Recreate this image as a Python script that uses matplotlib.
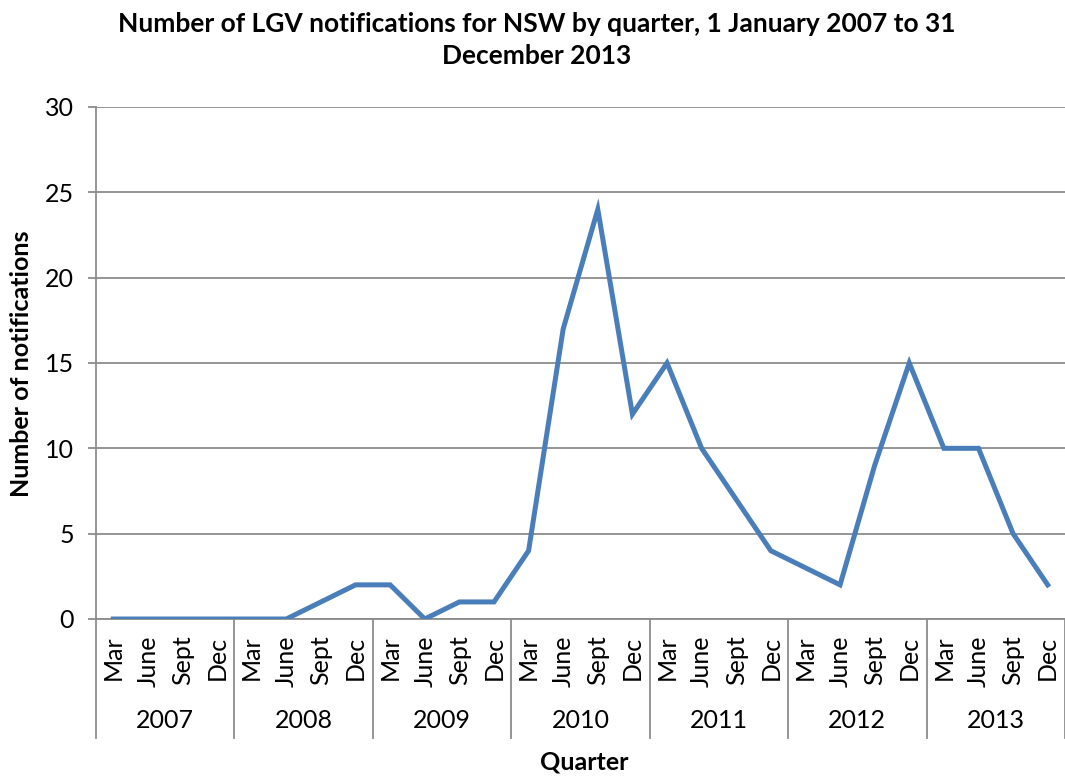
import numpy as np
import matplotlib
matplotlib.use("Agg")
import matplotlib.pyplot as plt
import matplotlib.transforms as mtransforms

# ---- data ----
years = ["2007", "2008", "2009", "2010", "2011", "2012", "2013"]
quarters = ["Mar", "June", "Sept", "Dec"]
notifications = [0, 0, 0, 0,
                 0, 0, 1, 2,
                 2, 0, 1, 1,
                 4, 17, 24, 12,
                 15, 10, 7, 4,
                 3, 2, 9, 15,
                 10, 10, 5, 2]

plt.rcParams['font.family'] = ['Lato', 'DejaVu Sans']

W, H = 1065, 776
fig = plt.figure(figsize=(W / 100, H / 100), dpi=100)
ax = fig.add_axes([96 / W, 1 - 619 / H, (1065 - 96) / W, (619 - 107) / H])

grid_col = '#8c8c8c'
x = np.arange(len(notifications))
tick_labels = quarters * len(years)

ax.plot(x, notifications, color='#4a7ebb', lw=3.6, solid_joinstyle='miter', zorder=3)

ax.set_xlim(-0.5, len(notifications) - 0.5)
ax.set_ylim(0, 30)
ax.set_yticks(range(0, 31, 5))
ax.tick_params(axis='y', labelsize=18, length=6, color=grid_col, width=1.3, pad=10)
ax.set_xticks(x)
ax.set_xticklabels(tick_labels, rotation=90, fontsize=18)
ax.tick_params(axis='x', length=0, pad=12)
ax.yaxis.grid(True, color=grid_col, lw=1.3)
ax.set_axisbelow(True)
for s in ['top', 'right']:
    ax.spines[s].set_visible(False)
for s in ['left', 'bottom']:
    ax.spines[s].set_color(grid_col)
    ax.spines[s].set_linewidth(1.3)

# year group separators and labels
trans = mtransforms.blended_transform_factory(ax.transData, ax.transAxes)
depth = (738 - 619) / (619 - 107)
for k in range(len(years) + 1):
    bx = k * 4 - 0.5
    ax.plot([bx, bx], [0, -depth], color=grid_col, lw=1.3, transform=trans, clip_on=False)
for k, yr in enumerate(years):
    ax.text(k * 4 + 1.5, -(720 - 619) / (619 - 107), yr, transform=trans,
            ha='center', va='center', fontsize=18)

fig.text(22 / W, 1 - 364 / H, "Number of notifications", rotation=90, ha='center', va='center',
         fontsize=18, fontweight='bold')
fig.text(584 / W, 1 - 762 / H, "Quarter", ha='center', va='center', fontsize=18, fontweight='bold')
fig.text(537 / W, 1 - 40 / H, "Number of LGV notifications for NSW by quarter, 1 January 2007 to 31\nDecember 2013",
         ha='center', va='center', fontsize=19, fontweight='bold', linespacing=1.4)

fig.savefig("out.png", dpi=100)
